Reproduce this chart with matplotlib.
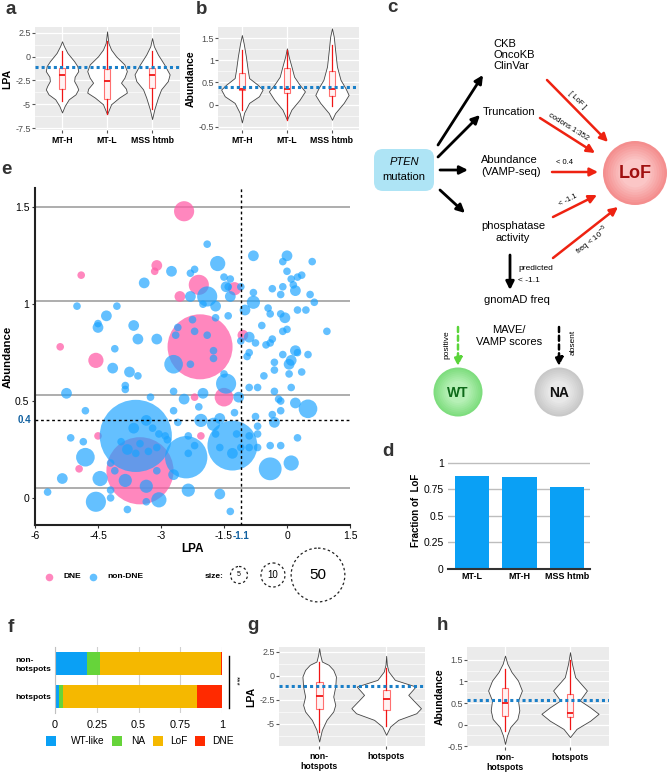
import numpy as np
import matplotlib.pyplot as plt
from matplotlib.patches import Circle, FancyBboxPatch, Rectangle

plt.rcParams['font.family'] = ['Liberation Sans', 'DejaVu Sans']

# ---------------- data ----------------
# a / b : violin profiles (value, half width) and box stats per group
groups_ab = ["MT-H", "MT-L", "MSS htmb"]

lpa_vio_y = [
    [1.6, 1.08, 0.38, -0.49, -1.0, -1.53, -2.12, -2.57, -3.09, -3.44, -3.96, -4.48, -5.17, -5.86],
    [2.64, 1.42, 0.73, 0.03, -0.83, -1.53, -2.22, -2.74, -3.37, -3.78, -4.3, -5.0, -6.04],
    [1.94, 1.08, 0.21, -0.83, -1.87, -2.57, -3.44, -4.3, -5.52, -6.56],
]
lpa_vio_w = [
    [0.0, 0.044, 0.12, 0.27, 0.34, 0.36, 0.28, 0.27, 0.33, 0.36, 0.30, 0.15, 0.06, 0.0],
    [0.0, 0.03, 0.09, 0.2, 0.385, 0.44, 0.385, 0.31, 0.42, 0.44, 0.27, 0.09, 0.0],
    [0.0, 0.04, 0.13, 0.27, 0.39, 0.35, 0.2, 0.13, 0.05, 0.0],
]
lpa_box = [  # whislo, q1, med, q3, whishi
    [-4.65, -3.37, -1.98, -1.18, 0.56],
    [-6.0, -4.48, -2.57, -1.35, 1.6],
    [-5.5, -3.26, -1.98, -1.18, 0.56],
]

ab_vio_y = [
    [1.57, 1.38, 1.08, 0.78, 0.6, 0.45, 0.34, 0.19, 0.04, -0.18, -0.4],
    [1.27, 1.08, 0.86, 0.63, 0.45, 0.3, 0.11, -0.11, -0.34],
    [1.72, 1.53, 1.23, 0.86, 0.56, 0.37, 0.22, 0.04, -0.19, -0.34],
]
ab_vio_w = [
    [0.0, 0.04, 0.09, 0.13, 0.16, 0.35, 0.46, 0.38, 0.16, 0.05, 0.0],
    [0.0, 0.04, 0.1, 0.16, 0.28, 0.4, 0.28, 0.1, 0.0],
    [0.0, 0.04, 0.07, 0.11, 0.19, 0.3, 0.37, 0.26, 0.07, 0.0],
]
ab_box = [
    [-0.11, 0.32, 0.36, 0.72, 1.23],
    [-0.34, 0.26, 0.36, 0.82, 1.23],
    [-0.04, 0.19, 0.36, 0.75, 1.34],
]

LPA_CUT = -1.1
ABUND_CUT = 0.4

# d : fraction of LoF
groups_d = ["MT-L", "MT-H", "MSS htmb"]
frac_lof = [0.875, 0.865, 0.77]

# e : bubble scatter (LPA, abundance, number of mutations)
dne_lpa = [-2.45, -4.9, -3.1, -3.15, -2.1, -2.55, -1.25, -2.07, -5.4, -4.55,
           -1.5, -2.2, -1.05, -4.5, -2.05, -4.95, -3.5]
dne_abund = [1.48, 1.15, 1.2, 1.17, 1.10, 1.04, 1.08, 0.78, 0.78, 0.71,
             0.52, 0.52, 0.84, 0.32, 0.32, 0.15, 0.14]
dne_n = [7, 1, 2, 1, 7, 2, 3, 73, 1, 4, 6, 1, 2, 1, 1, 1, 78]

non_lpa = [-1.9, -1.65, -2.75, -3.4, -2.3, -2.2, -1.5, -1.35, -1.45, -1.4,
           -1.1, -0.8, 0.0, -0.1, 0.6, 0.0, 0.35, 0.25, 0.1, 0.15,
           -0.1, 0.2, -0.35, -0.15, 0.55, 0.65, -0.8, -1.0, -0.8, -0.45,
           -0.4, -0.15, -0.05, 0.25, 0.45, -1.9, -2.3, -1.7, -2.0, -1.35,
           -1.4, -1.7, -2.25, -3.65, -4.3, -4.5, -4.5, -4.05, -5.0,
           -3.6, -2.4, -1.3, -2.7, -1.45, -0.4, 0.1, 0.5, 0.2, -4.55,
           -3.05, -2.35, -1.6, -4.45, -4.8, -5.25, -5.35, -5.7, -4.8, -5.15,
           -3.55, -3.1, -4.15, -4.1, -3.75, -3.55, -3.85, -3.85, -3.25, -2.7,
           -2.45, -2.0, -2.1, -2.7, -2.05, -1.75, -1.25, -1.15, -0.9, -0.7,
           -0.3, -0.15, -0.15, -0.3, -0.7, -0.7, -0.75, -0.35, -0.9, -0.9,
           -0.7, -0.4, -0.15, 0.25, -0.95, -0.9, -1.1, -0.9, -0.5, -0.35,
           -0.1, 0.0, 0.2, 0.05, 0.1, 0.25, 0.35, 0.05, -0.1, -0.3,
           -0.3, -0.55, -0.75, 0.5, 0.95, -0.6, -0.4, 0.1, -0.2,
           -3.35, -3.65, -3.2, -3.05, -3.5, -3.95, -3.8, -3.6, -3.3, -3.1,
           -2.85, -2.9, -4.2, -4.1, -3.85, -3.35, -3.1, -2.7, -2.35, -2.2,
           -2.6, -2.35, -1.7, -1.6, -1.3, -1.2, -1.1, -1.6, -4.2, -3.8,
           -3.35, -1.35, -4.85, -4.2, -2.6, -2.2, -1.9, -1.75, -1.75, -2.3,
           -2.65, -1.5]
non_abund = [1.31, 1.21, 1.17, 1.11, 1.16, 1.18, 1.14, 1.13, 1.09, 1.09,
             1.09, 1.25, 1.25, 1.22, 1.22, 1.17, 1.15, 1.14, 1.13, 1.10,
             1.09, 1.07, 1.08, 1.05, 1.05, 1.01, 1.01, 0.97, 1.06, 0.98,
             0.95, 0.95, 0.93, 0.97, 0.97, 1.04, 1.04, 0.99, 1.0, 1.04,
             0.94, 0.93, 0.92, 0.89, 0.94, 0.90, 0.88, 0.99, 0.99,
             0.32, 0.21, 0.27, 0.69, 0.59, 0.15, 0.18, 0.46, 0.49, -0.02,
             -0.01, 0.04, 0.02, 0.10, 0.21, 0.54, 0.10, 0.03, 0.45, 0.31,
             0.82, 0.82, 0.67, 0.77, 0.65, 0.63, 0.58, 0.56, 0.52, 0.55,
             0.51, 0.54, 0.47, 0.45, 0.40, 0.38, 0.44, 0.52, 0.57, 0.57,
             0.55, 0.50, 0.45, 0.39, 0.37, 0.33, 0.42, 0.43, 0.32, 0.26,
             0.26, 0.27, 0.27, 0.31, 0.73, 0.75, 0.81, 0.83, 0.79, 0.82,
             0.86, 0.87, 0.76, 0.69, 0.71, 0.75, 0.65, 0.64, 0.74, 0.70,
             0.66, 0.63, 0.80, 0.74, 0.86, 0.89, 0.80, 0.57, 0.51,
             0.40, 0.36, 0.36, 0.33, 0.28, 0.29, 0.25, 0.23, 0.24, 0.26,
             0.30, 0.32, 0.18, 0.14, 0.09, 0.06, 0.14, 0.12, 0.32, 0.27,
             0.39, 0.23, 0.33, 0.26, 0.23, 0.33, 0.26, 0.41, 0.04, -0.06,
             -0.02, -0.07, 0.29, 0.0, 0.88, 0.86, 0.84, 0.76, 0.72, 0.69,
             0.84, 0.64]
non_n = [1, 4, 2, 2, 1, 1, 1, 1, 2, 1,
         1, 2, 2, 1, 1, 1, 1, 1, 1, 1,
         1, 2, 1, 1, 1, 1, 3, 2, 1, 1,
         1, 1, 2, 1, 1, 7, 2, 2, 1, 2,
         1, 1, 1, 2, 2, 1, 2, 1, 1,
         90, 31, 43, 6, 7, 9, 4, 6, 2, 7,
         4, 3, 2, 4, 6, 2, 2, 1, 1, 1,
         2, 2, 2, 1, 2, 1, 1, 1, 1, 1,
         2, 2, 1, 1, 3, 3, 1, 2, 1, 1,
         1, 1, 1, 2, 1, 1, 1, 1, 1, 1,
         1, 1, 1, 1, 1, 1, 1, 2, 1, 1,
         1, 1, 2, 2, 2, 1, 1, 1, 1, 1,
         1, 1, 1, 1, 1, 1, 1, 1, 1,
         2, 2, 1, 1, 1, 1, 2, 1, 1, 1,
         1, 1, 1, 1, 3, 3, 1, 2, 1, 1,
         1, 1, 1, 1, 2, 1, 1, 2, 1, 1,
         1, 1, 1, 1, 1, 1, 1, 1, 1, 1,
         1, 1]
e_lines = [1.5, 1.015, 0.53, 0.05]
size_legend = [5, 10, 50]

# f : class fractions
groups_f = ["hotspots", "non-\nhotspots"]
classes_f = ["WT-like", "NA", "LoF", "DNE"]
frac_f = {
    "WT-like": [0.026, 0.193],
    "NA": [0.024, 0.074],
    "LoF": [0.80, 0.726],
    "DNE": [0.15, 0.007],
}

# g / h : hotspots vs non-hotspots
groups_gh = ["non-\nhotspots", "hotspots"]
g_vio_y = [
    [2.88, 2.19, 1.49, 1.15, 0.62, -0.07, -1.11, -2.15, -3.02, -3.71, -4.58, -5.62, -6.84],
    [2.08, 1.15, 0.45, -0.42, -1.11, -1.98, -2.5, -3.37, -3.89, -4.58, -5.27, -6.14],
]
g_vio_w = [
    [0.0, 0.015, 0.04, 0.14, 0.21, 0.25, 0.24, 0.21, 0.24, 0.21, 0.11, 0.04, 0.0],
    [0.0, 0.01, 0.035, 0.13, 0.44, 0.33, 0.40, 0.52, 0.45, 0.18, 0.06, 0.0],
]
g_box = [
    [-5.8, -3.47, -2.08, -0.59, 1.49],
    [-5.27, -3.54, -2.39, -1.46, 0.8],
]
h_vio_y = [
    [1.6, 1.41, 1.22, 1.02, 0.79, 0.56, 0.33, 0.13, -0.06, -0.26, -0.45],
    [1.68, 1.41, 1.1, 0.79, 0.56, 0.4, 0.25, 0.09, -0.1, -0.29],
]
h_vio_w = [
    [0.0, 0.036, 0.1, 0.2, 0.26, 0.2, 0.22, 0.19, 0.08, 0.03, 0.0],
    [0.0, 0.03, 0.08, 0.26, 0.15, 0.31, 0.44, 0.31, 0.1, 0.0],
]
h_box = [
    [-0.14, 0.21, 0.5, 0.85, 1.29],
    [-0.1, 0.17, 0.27, 0.71, 1.49],
]
G_CUT = -1.05
H_CUT = 0.57

# ---------------- layout helpers ----------------
W, H = 667, 772
fig = plt.figure(figsize=(W / 100, H / 100), dpi=100)


def rect(x0, y0, x1, y1):
    return [x0 / W, 1 - y1 / H, (x1 - x0) / W, (y1 - y0) / H]


BLUE = "#1A7FC8"
RED_BOX = "#FF7070"
RED_LINE = "#F01515"
C_WT, C_NA, C_LOF, C_DNE = "#0AA0F5", "#66D43A", "#F5B800", "#FF2A00"


def gg_axes(box, xlim, ylim, yticks, ylabels, yminor, xlabels, ylabel):
    ax = fig.add_axes(rect(*box))
    ax.set_facecolor("#EBEBEB")
    for s in ax.spines.values():
        s.set_visible(False)
    ax.set_xlim(*xlim)
    ax.set_ylim(*ylim)
    ax.set_yticks(yticks)
    ax.set_yticklabels(ylabels)
    ax.set_yticks(yminor, minor=True)
    ax.set_xticks(range(1, len(xlabels) + 1))
    ax.set_xticklabels(xlabels, fontweight="bold", fontsize=6.3, color="black")
    ax.tick_params(axis="y", length=2, color="#555", labelsize=6.5,
                   labelcolor="#4D4D4D", pad=1)
    ax.tick_params(axis="x", length=2, color="#555", pad=2)
    ax.tick_params(which="minor", length=0)
    ax.grid(which="major", color="white", lw=0.9)
    ax.grid(which="minor", axis="y", color="white", lw=0.45)
    ax.set_axisbelow(True)
    ax.set_ylabel(ylabel, fontweight="bold", fontsize=7.5, labelpad=2)
    return ax


def violins(ax, ys_list, ws_list, boxes, width):
    for i, (ys, ws) in enumerate(zip(ys_list, ws_list)):
        pos = i + 1
        ys = np.array(ys)
        ws = np.array(ws)
        ax.fill_betweenx(ys, pos - ws, pos + ws, facecolor="white",
                         edgecolor="#444", lw=0.6, zorder=2)
    stats = [dict(whislo=b[0], q1=b[1], med=b[2], q3=b[3], whishi=b[4], fliers=[])
             for b in boxes]
    parts = ax.bxp(stats, positions=range(1, len(boxes) + 1), widths=width,
                   showcaps=False, showfliers=False, patch_artist=True,
                   manage_ticks=False,
                   boxprops=dict(facecolor="#FFF3F3", edgecolor=RED_BOX, lw=0.8),
                   whiskerprops=dict(color=RED_LINE, lw=0.9),
                   medianprops=dict(color=RED_LINE, lw=1.3))
    for key in ("boxes", "whiskers", "medians"):
        for art in parts[key]:
            art.set_zorder(4 if key == "medians" else 3)


# ---------------- a ----------------
ax_a = gg_axes((35, 27, 180, 130), (0.4, 3.62), (-7.7, 3.1),
               [2.5, 0, -2.5, -5, -7.5], ["2.5", "0", "-2.5", "-5", "-7.5"],
               [1.25, -1.25, -3.75, -6.25], groups_ab, "LPA")
violins(ax_a, lpa_vio_y, lpa_vio_w, lpa_box, 0.13)
ax_a.axhline(LPA_CUT, color=BLUE, lw=2.2, ls=(0, (1, 1)), zorder=5)

# ---------------- b ----------------
ax_b = gg_axes((218, 27, 359, 130), (0.47, 3.6), (-0.57, 1.75),
               [1.5, 1, 0.5, 0, -0.5], ["1.5", "1", "0.5", "0", "-0.5"],
               [1.25, 0.75, 0.25, -0.25], groups_ab, "Abundance")
violins(ax_b, ab_vio_y, ab_vio_w, ab_box, 0.13)
ax_b.axhline(ABUND_CUT, color=BLUE, lw=2.2, ls=(0, (1, 1)), zorder=5)

# ---------------- e ----------------
ax_e = fig.add_axes(rect(35, 188, 350, 525))
ax_e.set_xlim(-6, 1.5)
ax_e.set_ylim(-0.14, 1.6)
for y in e_lines:
    ax_e.axhline(y, color="#A0A0A0", lw=1.2, zorder=0)
ax_e.scatter(dne_lpa, dne_abund, s=np.array(dne_n) * 30, color="#FF5FA8",
             alpha=0.75, lw=0, zorder=2)
ax_e.scatter(non_lpa, non_abund, s=np.array(non_n) * 30, color="#1AA3FF",
             alpha=0.68, lw=0, zorder=3)
ax_e.axvline(LPA_CUT, color="black", lw=1.0, ls=(0, (2, 2)), zorder=4)
ax_e.axhline(ABUND_CUT, color="black", lw=1.0, ls=(0, (2, 2)), zorder=4)
for side in ("top", "right"):
    ax_e.spines[side].set_visible(False)
for side in ("left", "bottom"):
    ax_e.spines[side].set_color("#222")
    ax_e.spines[side].set_linewidth(1.5)
ax_e.set_xticks([-6, -4.5, -3, -1.5, 0, 1.5])
ax_e.set_xticklabels(["-6", "-4.5", "-3", "-1.5", "0", "1.5"])
ax_e.set_yticks([0, 0.5, 1, 1.5])
ax_e.set_yticklabels(["0", "0.5", "1", "1.5"])
ax_e.tick_params(labelsize=7.5, length=2, color="#333", pad=2)
ax_e.set_xlabel("LPA", fontweight="bold", fontsize=8.5, labelpad=2)
ax_e.set_ylabel("Abundance", fontweight="bold", fontsize=8.2)
ax_e.yaxis.set_label_coords(-0.072, 0.5)
ax_e.text(LPA_CUT, -0.195, "-1.1", color="#1060A0", fontweight="bold",
          fontsize=7, ha="center", va="center")
ax_e.text(-6.1, ABUND_CUT, "0.4", color="#1060A0", fontweight="bold",
          fontsize=7, ha="right", va="center")

# ---------------- d ----------------
ax_d = fig.add_axes(rect(448, 452, 590, 569))
ax_d.bar(range(len(groups_d)), frac_lof, width=0.72, color="#0AA0F5", zorder=2)
ax_d.set_xlim(-0.5, 2.48)
ax_d.set_ylim(0, 1.1)
ax_d.set_yticks([0, 0.25, 0.5, 0.75, 1])
ax_d.set_yticklabels(["0", "0.25", "0.5", "0.75", "1"])
ax_d.set_xticks(range(len(groups_d)))
ax_d.set_xticklabels(groups_d, fontweight="bold", fontsize=6.5)
ax_d.tick_params(axis="y", length=0, labelsize=7.5, pad=3)
ax_d.tick_params(axis="x", length=0, pad=2)
ax_d.grid(axis="y", color="#BDBDBD", lw=1)
ax_d.set_axisbelow(True)
for side in ("top", "right", "left"):
    ax_d.spines[side].set_visible(False)
ax_d.spines["bottom"].set_color("#333")
ax_d.spines["bottom"].set_linewidth(1.5)
ax_d.set_ylabel("Fraction of  LoF", fontweight="bold", fontsize=7, labelpad=2)

# ---------------- f ----------------
ax_f = fig.add_axes(rect(55, 647, 222, 713))
left = np.zeros(len(groups_f))
colors_f = [C_WT, C_NA, C_LOF, C_DNE]
for cls, col in zip(classes_f, colors_f):
    vals = np.array(frac_f[cls])
    ax_f.barh(range(len(groups_f)), vals, left=left, height=0.7, color=col, zorder=2)
    left += vals
ax_f.set_xlim(0, 1)
ax_f.set_ylim(-0.5, 1.5)
ax_f.set_xticks([0, 0.25, 0.5, 0.75, 1])
ax_f.set_xticklabels(["0", "0.25", "0.5", "0.75", "1"])
ax_f.set_yticks(range(len(groups_f)))
ax_f.set_yticklabels(groups_f, fontweight="bold", fontsize=6, linespacing=1.3,
                     multialignment="left")
ax_f.tick_params(axis="x", length=0, labelsize=7.8, pad=5)
ax_f.tick_params(axis="y", length=0, pad=3)
ax_f.grid(axis="x", color="#D0D0D0", lw=0.8)
ax_f.set_axisbelow(True)
for side in ("top", "right", "bottom"):
    ax_f.spines[side].set_visible(False)
ax_f.spines["left"].set_color("#C0C0C0")

# ---------------- g ----------------
ax_g = gg_axes((279, 647, 425, 746), (0.4, 2.58), (-7.3, 3.0),
               [2.5, 0, -2.5, -5], ["2.5", "0", "-2.5", "-5"],
               [1.25, -1.25, -3.75, -6.25], groups_gh, "LPA")
violins(ax_g, g_vio_y, g_vio_w, g_box, 0.1)
ax_g.axhline(G_CUT, color=BLUE, lw=2.2, ls=(0, (1, 1)), zorder=5)

# ---------------- h ----------------
ax_h = gg_axes((467, 647, 609, 747), (0.415, 2.6), (-0.52, 1.8),
               [1.5, 1, 0.5, 0, -0.5], ["1.5", "1", "0.5", "0", "-0.5"],
               [1.25, 0.75, 0.25, -0.25], groups_gh, "Abundance")
violins(ax_h, h_vio_y, h_vio_w, h_box, 0.1)
ax_h.axhline(H_CUT, color=BLUE, lw=2.2, ls=(0, (1, 1)), zorder=5)

# ---------------- overlay (diagram c, legends, panel letters) ----------------
ov = fig.add_axes([0, 0, 1, 1])
ov.set_xlim(0, W)
ov.set_ylim(H, 0)
ov.axis("off")
ov.patch.set_alpha(0)

for letter, (x, y) in zip("abcdefgh", [(11, 10), (202, 9), (392, 8), (388, 451),
                                       (6, 169), (11, 628), (253, 626), (442, 626)]):
    ov.text(x, y, letter, fontsize=13.5, fontweight="bold", color="#333",
            ha="center", va="center")

# diagram c
ov.add_patch(FancyBboxPatch((374, 149), 60, 42, boxstyle="round,pad=0,rounding_size=9",
                            facecolor="#AEE4F5", edgecolor="none"))
ov.text(404, 162, "PTEN", style="italic", fontsize=8, ha="center", va="center")
ov.text(404, 177, "mutation", fontsize=8, ha="center", va="center")

fs_c = 8
ov.text(493, 55, "CKB\nOncoKB\nClinVar", fontsize=fs_c, ha="left", va="center",
        linespacing=1.15)
ov.text(483, 112, "Truncation", fontsize=fs_c, ha="left", va="center")
ov.text(481, 166, "Abundance\n(VAMP-seq)", fontsize=fs_c, ha="left", va="center",
        linespacing=1.2)
ov.text(513, 232, "phosphatase\nactivity", fontsize=fs_c, ha="center", va="center",
        linespacing=1.2)
ov.text(517, 300, "gnomAD freq", fontsize=fs_c, ha="center", va="center")
ov.text(509, 336, "MAVE/\nVAMP scores", fontsize=fs_c, ha="center", va="center",
        linespacing=1.2)


def arrow(p0, p1, color="black", lw=2.0, ls="-"):
    ov.annotate("", xy=p1, xytext=p0,
                arrowprops=dict(arrowstyle="-|>", color=color, lw=lw, ls=ls,
                                mutation_scale=12, shrinkA=0, shrinkB=0))


arrow((438, 145), (483, 75))
arrow((438, 157), (480, 115))
arrow((440, 170), (468, 170))
arrow((440, 190), (465, 213))
arrow((510, 255), (510, 290))
ov.text(518, 268, "predicted", fontsize=6, ha="left", va="center")
ov.text(518, 280, "< -1.1", fontsize=6, ha="left", va="center")

RED_ARR = "#EE2211"
arrow((547, 80), (608, 142), RED_ARR, 1.8)
arrow((540, 118), (595, 153), RED_ARR, 1.8)
arrow((552, 172), (598, 172), RED_ARR, 1.8)
arrow((553, 217), (597, 195), RED_ARR, 1.8)
arrow((553, 258), (618, 207), RED_ARR, 1.8)
ov.text(577, 100, "[ LoF ]", fontsize=5.5, rotation=-45, ha="center", va="center")
ov.text(568, 127, "codons 1:352", fontsize=5.5, rotation=-32, ha="center", va="center")
ov.text(564, 163, "< 0.4", fontsize=5.5, ha="center", va="center")
ov.text(568, 200, "< -1.1", fontsize=5.5, rotation=27, ha="center", va="center")
ov.text(592, 240, "freq < 10$^{-5}$", fontsize=5.5, rotation=38, ha="center",
        va="center")

arrow((458, 327), (458, 366), "#5AD43A", 1.8, (0, (2, 1.5)))
arrow((559, 327), (559, 366), "black", 1.8, (0, (2, 1.5)))
ov.text(447, 345, "positive", fontsize=6, rotation=90, ha="center", va="center")
ov.text(573, 342, "absent", fontsize=6, rotation=90, ha="center", va="center")


def shaded_circle(xy, r, outer, inner):
    oc = np.array(plt.matplotlib.colors.to_rgb(outer))
    ic = np.array(plt.matplotlib.colors.to_rgb(inner))
    steps = 8
    for k in range(steps):
        t = k / (steps - 1)
        ov.add_patch(Circle(xy, r * (1 - 0.55 * t), color=oc * (1 - t) + ic * t, lw=0))


shaded_circle((635, 173), 32, "#F48E8E", "#FBC6C6")
ov.text(635, 174, "LoF", fontsize=13, fontweight="bold", color="#A01010",
        ha="center", va="center")
shaded_circle((458, 392), 24.5, "#7EDD7E", "#B6F0B6")
ov.text(458, 393, "WT", fontsize=10, fontweight="bold", color="#0E6A1A",
        ha="center", va="center")
shaded_circle((559, 392), 24.5, "#C8C8C8", "#E8E8E8")
ov.text(559, 393, "NA", fontsize=10, fontweight="bold", color="#111",
        ha="center", va="center")

# legend e
ov.scatter([49], [577], s=30, color="#FF5FA8", alpha=0.75, lw=0)
ov.text(63, 577, "DNE", fontsize=6, fontweight="bold", va="center")
ov.scatter([93], [577], s=30, color="#1AA3FF", alpha=0.68, lw=0)
ov.text(107, 577, "non-DNE", fontsize=6, fontweight="bold", va="center")
ov.text(205, 577, "size:", fontsize=6, fontweight="bold", va="center")
for n, cx, fsz in zip(size_legend, [239, 273, 318], [5, 7, 11]):
    r = 3.8 * np.sqrt(n)
    ov.add_patch(Circle((cx, 575), r, fill=False, ls=(0, (2, 2)), lw=0.9,
                        edgecolor="#222"))
    ov.text(cx, 575, str(n), fontsize=fsz, ha="center", va="center")

# legend f
for cls, col, xs, xt in zip(classes_f, colors_f, [51, 117, 158, 200],
                            [71, 131, 170, 212]):
    ov.add_patch(Rectangle((xs - 5, 736), 10, 10, color=col, lw=0))
    ov.text(xt, 741, cls, fontsize=7.3, va="center")

# significance bracket f
ov.plot([229, 229], [656, 708], color="black", lw=1)
ov.text(236, 681, "***", fontsize=6, rotation=-90, ha="center", va="center")

fig.savefig("out.png", dpi=100)
